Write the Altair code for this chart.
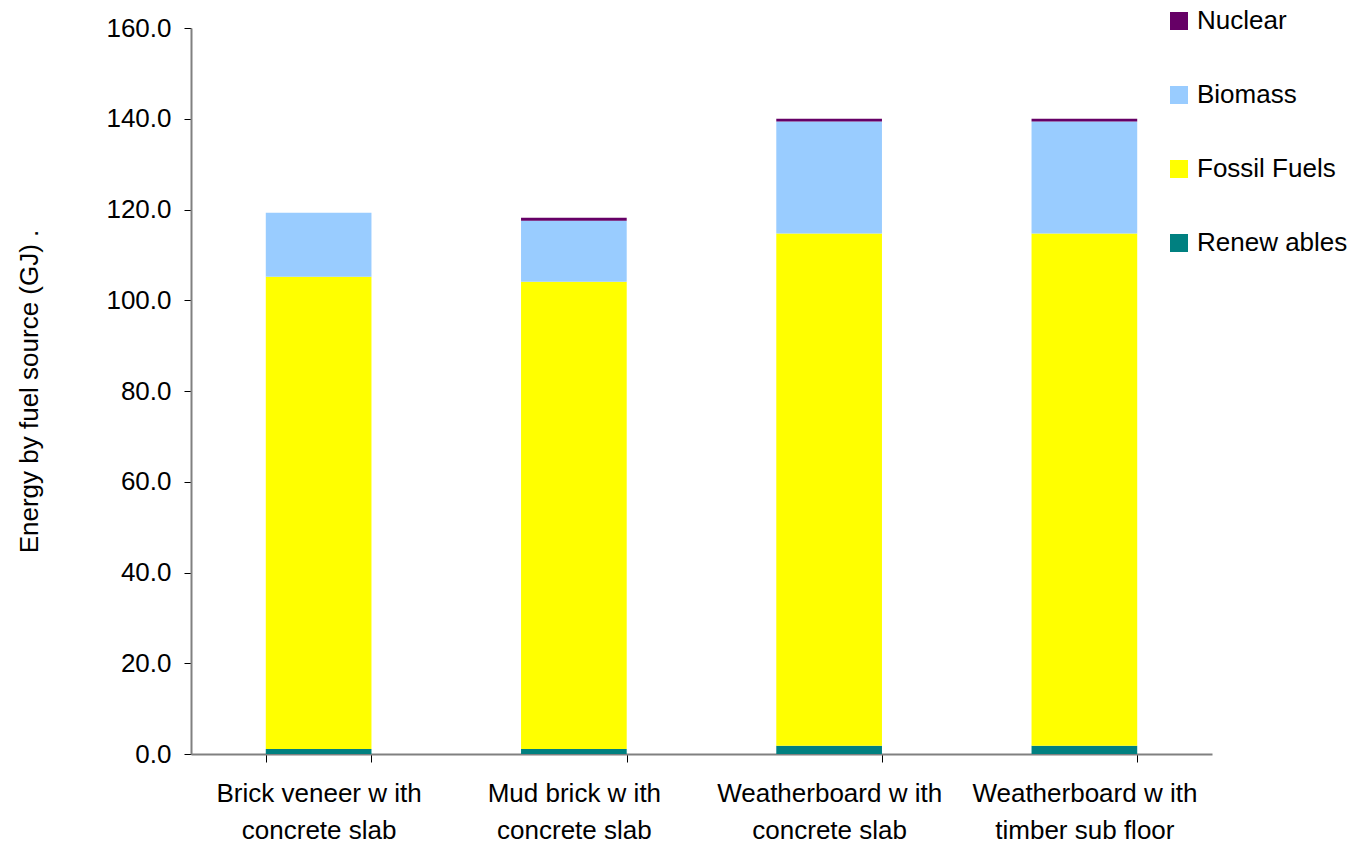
import altair as alt
import pandas as pd

# Dwelling types (line break splits the axis label over two lines)
categories = [
    "Brick veneer w ith\nconcrete slab",
    "Mud brick w ith\nconcrete slab",
    "Weatherboard w ith\nconcrete slab",
    "Weatherboard w ith\ntimber sub floor",
]

# Energy by fuel source, GJ
renewables = [1.1, 1.1, 1.8, 1.8]
fossil_fuels = [104.1, 103.0, 112.9, 112.9]
biomass = [14.1, 13.4, 24.7, 24.7]
nuclear = [0.0, 0.7, 0.6, 0.6]

sources = ["Renew ables", "Fossil Fuels", "Biomass", "Nuclear"]
series = [renewables, fossil_fuels, biomass, nuclear]
legend_order = ["Nuclear", "Biomass", "Fossil Fuels", "Renew ables"]
colors = ["#660066", "#99CCFF", "#FFFF00", "#008080"]
y_ticks = [0, 20, 40, 60, 80, 100, 120, 140, 160]

rows = []
for stack_pos, (src, vals) in enumerate(zip(sources, series)):
    for cat, v in zip(categories, vals):
        rows.append({"house": cat, "source": src, "energy": v, "stack": stack_pos})
df = pd.DataFrame(rows)

FONT = "Liberation Sans"

chart = (
    alt.Chart(df)
    .mark_bar(stroke=None)
    .encode(
        x=alt.X(
            "house:N",
            sort=categories,
            scale=alt.Scale(paddingInner=0.586, paddingOuter=0.293),
            axis=alt.Axis(
                title=None,
                labelAngle=0,
                labelExpr="datum.value ? split(datum.value, '\\n') : ''",
                labelLineHeight=37,
                labelLimit=400,
                labelFontSize=26,
                labelFont=FONT,
                labelColor="#000000",
                labelPadding=18,
                tickBand="extent",
                tickSize=8,
                tickColor="#000000",
                domainColor="#808080",
                domainWidth=2,
            ),
        ),
        y=alt.Y(
            "energy:Q",
            stack="zero",
            scale=alt.Scale(domain=[0, 160], nice=False),
            axis=alt.Axis(
                title="Energy by fuel source (GJ) .",
                titleFont=FONT,
                titleFontSize=26,
                titleFontWeight="normal",
                titleColor="#000000",
                titlePadding=63,
                values=y_ticks,
                format=".1f",
                labelFont=FONT,
                labelFontSize=26,
                labelColor="#000000",
                labelPadding=13,
                tickSize=7,
                tickColor="#000000",
                domainColor="#808080",
                domainWidth=2,
                grid=False,
            ),
        ),
        color=alt.Color(
            "source:N",
            scale=alt.Scale(domain=legend_order, range=colors),
            legend=alt.Legend(
                title=None,
                orient="none",
                legendX=975,
                legendY=-20,
                symbolType="square",
                symbolSize=324,
                symbolStrokeWidth=0,
                labelFont=FONT,
                labelFontSize=26,
                labelColor="#000000",
                labelOffset=5,
                labelLimit=300,
                rowPadding=48,
                padding=0,
            ),
        ),
        order=alt.Order("stack:Q", sort="ascending"),
    )
    .properties(
        width=1021,
        height=726,
        autosize="none",
        padding={"left": 191, "top": 28, "right": 140, "bottom": 91},
        background="#FFFFFF",
    )
    .configure_view(stroke=None)
)

chart.save("out.html", embed_options={"renderer": "svg", "actions": False})
